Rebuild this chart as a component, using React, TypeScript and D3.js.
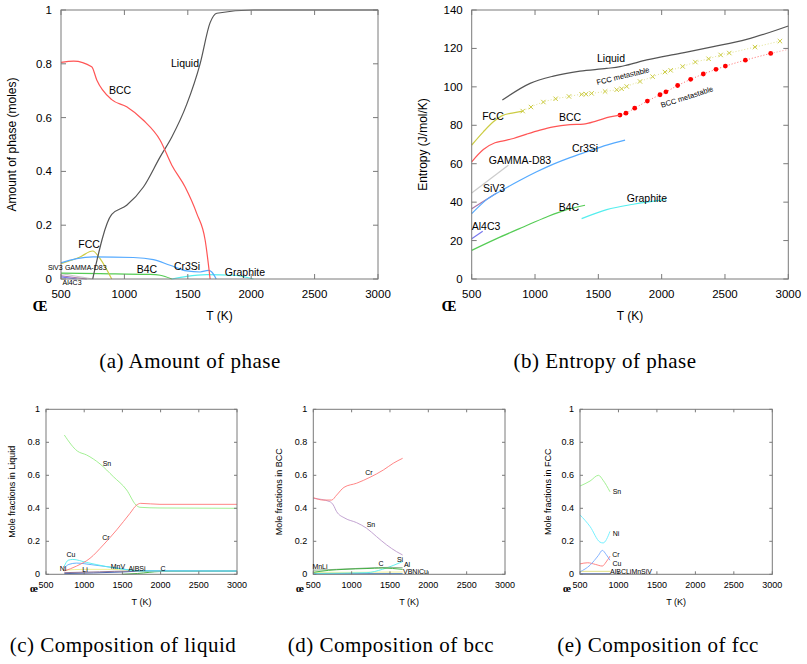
import React from 'react';
import * as d3 from 'd3';

type P = [number, number];

// ---------- Panel (a): amount of phase ----------
const xTicks = [500, 1000, 1500, 2000, 2500, 3000];
const aYTicks = [0, 0.2, 0.4, 0.6, 0.8, 1];
const aBCC: P[] = [[500, 0.805], [600, 0.81], [742, 0.789], [782, 0.74], [900, 0.667], [1018, 0.64], [1150, 0.59], [1282, 0.516], [1374, 0.423], [1479, 0.342], [1571, 0.243], [1637, 0.144], [1676, 0]];
const aLiquid: P[] = [[750, 0], [900, 0.24], [1018, 0.274], [1150, 0.342], [1282, 0.454], [1374, 0.528], [1492, 0.65], [1597, 0.8], [1676, 0.953], [1729, 0.988], [2018, 1.0], [3000, 1.0]];
const aFCC: P[] = [[500, 0.057], [650, 0.082], [750, 0.104], [808, 0.076], [900, 0]];
const aCr3Si: P[] = [[500, 0.06], [624, 0.076], [755, 0.082], [1071, 0.08], [1229, 0.072], [1360, 0.051], [1492, 0.03], [1597, 0.026], [1663, 0.032], [1689, 0.026], [1724, 0]];
const aB4C: P[] = [[500, 0.022], [808, 0.02], [1203, 0.017], [1282, 0.014], [1374, 0]];
const aGraphite: P[] = [[1374, 0], [1492, 0.01], [1650, 0.016], [1860, 0.014], [2018, 0]];
const aSiV3: P[] = [[500, 0.012], [703, 0]];
const aAl4C3: P[] = [[500, 0.008], [624, 0]];
const aGamma: P[] = [[500, 0.02], [600, 0.012], [750, 0]];

// ---------- Panel (b): entropy of phase ----------
const bYTicks = [0, 20, 40, 60, 80, 100, 120, 140];
const bLiquid: P[] = [[742, 93.1], [961, 101.8], [1145, 105.6], [1355, 108.2], [1566, 109.6], [1671, 110.5], [1724, 111.3], [1882, 114], [2145, 117.4], [2408, 120.9], [2671, 124.7], [3000, 131.7]];
const bFCC: P[] = [[500, 69.7], [592, 76.6], [671, 81.8], [737, 84.9], [829, 86.5], [903, 87.4]];
const bFCCmeta: P[] = [[903, 87.4], [968, 89.5], [1066, 92.1], [1163, 93.8], [1268, 95], [1368, 96.1], [1403, 96.2], [1447, 96.6], [1553, 97.6], [1645, 98.5], [1684, 99], [1724, 100.2], [1829, 102.8], [1929, 105.3], [2026, 107.7], [2071, 108.6], [2166, 110.6], [2266, 112.9], [2371, 114.6], [2466, 116.6], [2534, 117.6], [2737, 120.7], [2934, 123.8]];
const bBCC: P[] = [[500, 61], [592, 67.4], [684, 70.9], [750, 71.9], [829, 73.1], [934, 75.4], [1039, 77.5], [1145, 79.2], [1276, 80.3], [1382, 80.6], [1487, 82.3], [1592, 84.4], [1671, 85.3]];
const bBCCmeta: P[] = [[1671, 85.3], [1718, 86.3], [1787, 88.9], [1887, 92.6], [1987, 95.9], [2034, 97.4], [2126, 100.7], [2229, 103.9], [2329, 106.7], [2429, 109.1], [2503, 110.8], [2661, 113.9], [2861, 117.4]];
const bBCCtail: P[] = [[2861, 117.4], [3000, 119.5]];
const bCr3Si: P[] = [[500, 34], [618, 41.3], [750, 46.6], [882, 51.4], [1013, 55.8], [1145, 59.8], [1276, 63.2], [1408, 66.2], [1566, 69.7], [1711, 72.3]];
const bSiV3: P[] = [[500, 36.6], [697, 44.8]];
const bGamma: P[] = [[500, 44.8], [789, 59.2]];
const bAl4C3: P[] = [[500, 21], [587, 24.8]];
const bB4C: P[] = [[500, 14.9], [697, 21], [908, 27.1], [1092, 32.3], [1250, 36.1], [1395, 38.4]];
const bGraphite: P[] = [[1368, 31.4], [1566, 36.1], [1776, 38.9], [2034, 41.3]];

// ---------- Panel (c): composition of liquid ----------
const fracTicks = [0, 0.2, 0.4, 0.6, 0.8, 1];
const cSn: P[] = [[740, 0.844], [910, 0.747], [1032, 0.723], [1207, 0.669], [1381, 0.592], [1556, 0.511], [1678, 0.42], [1730, 0.406], [1992, 0.402], [3000, 0.4]];
const cCr: P[] = [[740, 0.02], [901, 0.05], [1076, 0.097], [1250, 0.178], [1425, 0.269], [1600, 0.37], [1687, 0.42], [1739, 0.43], [1992, 0.424], [3000, 0.424]];
const cCu: P[] = [[740, 0.05], [790, 0.085], [850, 0.09], [1030, 0.072], [1300, 0.046], [1560, 0.028], [1730, 0.02], [3000, 0.02]];
const cNi: P[] = [[740, 0.04], [800, 0.06], [900, 0.068], [1100, 0.058], [1400, 0.04], [1700, 0.022], [3000, 0.02]];
const cLi: P[] = [[740, 0.025], [1000, 0.03], [1300, 0.03], [1600, 0.025], [1750, 0.02], [3000, 0.02]];
const cMn: P[] = [[740, 0.01], [1200, 0.015], [1600, 0.02], [3000, 0.02]];
const cV: P[] = [[740, 0.004], [1500, 0.014], [1750, 0.019], [3000, 0.019]];
const cC: P[] = [[1500, 0.0], [1700, 0.005], [2000, 0.017], [3000, 0.019]];

// ---------- Panel (d): composition of bcc ----------
const dCr: P[] = [[500, 0.465], [630, 0.45], [739, 0.45], [804, 0.48], [900, 0.527], [1065, 0.552], [1239, 0.588], [1413, 0.632], [1543, 0.673], [1665, 0.703]];
const dSn: P[] = [[500, 0.46], [717, 0.44], [761, 0.42], [804, 0.38], [913, 0.34], [1065, 0.313], [1196, 0.279], [1326, 0.228], [1457, 0.178], [1587, 0.137], [1665, 0.117]];
const dC: P[] = [[500, 0.012], [700, 0.024], [900, 0.03], [1200, 0.035], [1400, 0.038], [1665, 0.03]];
const dMn: P[] = [[500, 0.025], [800, 0.03], [1200, 0.038], [1500, 0.042], [1665, 0.04]];
const dSi: P[] = [[500, 0.005], [1200, 0.01], [1400, 0.03], [1550, 0.055], [1665, 0.077]];
const dLi: P[] = [[500, 0.012], [1000, 0.012], [1665, 0.014]];
const dNi: P[] = [[500, 0.003], [1665, 0.004]];

// ---------- Panel (e): composition of fcc ----------
const eSn: P[] = [[500, 0.535], [630, 0.565], [740, 0.6], [800, 0.57], [890, 0.5]];
const eNi: P[] = [[500, 0.36], [630, 0.29], [760, 0.195], [800, 0.19], [890, 0.26]];
const eCu: P[] = [[500, 0.015], [630, 0.055], [740, 0.115], [790, 0.145], [840, 0.12], [890, 0.085]];
const eCr: P[] = [[500, 0.063], [600, 0.07], [700, 0.06], [790, 0.05], [840, 0.075], [890, 0.11]];
const eRest: P[] = [[500, 0.018], [890, 0.018]];
const eV: P[] = [[500, 0.003], [890, 0.003]];

type Series = { data: P[]; color: string; width?: number; dash?: string; marker?: 'x' | 'dot' };
type Label = { text: string; T: number; v: number; size: number; anchor?: string; rotate?: number };

type PanelProps = {
  x0: number; x1: number; yb: number; yt: number;
  yMax: number; yTicks: number[]; yFmt: (v: number) => string;
  tickFont: number; tickLen: number;
  series: Series[]; labels: Label[];
  yTitle: string; yTitleX: number; titleFont: number;
  xTitleY: number; oX: number; oY: number; oFont: number; oText: string;
  xTickY: number; yTickGap: number;
};

const SANS = 'Liberation Sans, Arial, sans-serif';

function Panel(p: PanelProps) {
  const x = d3.scaleLinear().domain([500, 3000]).range([p.x0, p.x1]);
  const y = d3.scaleLinear().domain([0, p.yMax]).range([p.yb, p.yt]);
  const line = d3.line<P>().x(d => x(d[0])).y(d => y(d[1])).curve(d3.curveMonotoneX);
  const frame = '#7a7a7a';
  return (
    <g>
      {p.series.map((s, i) => (
        <g key={i}>
          <path d={line(s.data) || ''} fill="none" stroke={s.color} strokeWidth={s.width ?? 1.2} strokeDasharray={s.dash} />
          {s.marker === 'x' && s.data.map((d, j) => (
            <path key={j} d={`M${x(d[0]) - 2.2},${y(d[1]) - 2.2}L${x(d[0]) + 2.2},${y(d[1]) + 2.2}M${x(d[0]) - 2.2},${y(d[1]) + 2.2}L${x(d[0]) + 2.2},${y(d[1]) - 2.2}`} stroke={s.color} strokeWidth={1} />
          ))}
          {s.marker === 'dot' && s.data.map((d, j) => (
            <circle key={j} cx={x(d[0])} cy={y(d[1])} r={2.4} fill={s.color} />
          ))}
        </g>
      ))}
      <rect x={p.x0} y={p.yt} width={p.x1 - p.x0} height={p.yb - p.yt} fill="none" stroke={frame} strokeWidth={1} />
      {xTicks.map(t => (
        <g key={t}>
          <line x1={x(t)} x2={x(t)} y1={p.yb} y2={p.yb - p.tickLen} stroke={frame} />
          <line x1={x(t)} x2={x(t)} y1={p.yt} y2={p.yt + p.tickLen} stroke={frame} />
          <text x={x(t)} y={p.xTickY} fontSize={p.tickFont} fontFamily={SANS} textAnchor="middle" dominantBaseline="central">{t}</text>
        </g>
      ))}
      {p.yTicks.map(t => (
        <g key={t}>
          <line x1={p.x0} x2={p.x0 + p.tickLen} y1={y(t)} y2={y(t)} stroke={frame} />
          <line x1={p.x1} x2={p.x1 - p.tickLen} y1={y(t)} y2={y(t)} stroke={frame} />
          <text x={p.x0 - p.yTickGap} y={y(t)} fontSize={p.tickFont} fontFamily={SANS} textAnchor="end" dominantBaseline="central">{p.yFmt(t)}</text>
        </g>
      ))}
      {p.labels.map((l, i) => (
        <text key={i} x={x(l.T)} y={y(l.v)} fontSize={l.size} fontFamily={SANS} textAnchor={l.anchor ?? 'middle'} dominantBaseline="central"
          transform={l.rotate ? `rotate(${l.rotate},${x(l.T)},${y(l.v)})` : undefined}>{l.text}</text>
      ))}
      <text transform={`translate(${p.yTitleX},${(p.yb + p.yt) / 2}) rotate(-90)`} fontSize={p.titleFont} fontFamily={SANS} textAnchor="middle" dominantBaseline="central">{p.yTitle}</text>
      <text x={(p.x0 + p.x1) / 2} y={p.xTitleY} fontSize={p.titleFont} fontFamily={SANS} textAnchor="middle" dominantBaseline="central">T (K)</text>
      <text x={p.oX} y={p.oY} fontSize={p.oFont} fontFamily="Liberation Serif, serif" fontWeight="bold" textAnchor="middle" dominantBaseline="central">{p.oText}</text>
    </g>
  );
}

const fmt1 = (v: number) => (v === 0 ? '0' : v === 1 ? '1' : String(v));
const fmtInt = (v: number) => String(v);

const RED = '#ff5555';
const DARK = '#555555';
const YEL = '#cccc44';
const BLUE = '#55aaff';
const GREEN = '#55cc55';
const CYAN = '#55eeee';
const PURP = '#aa77aa';
const GREY = '#cccccc';
const VIOL = '#7777ee';

export default function App() {
  const topCommon = { yb: 279, yt: 10, tickFont: 11.5, tickLen: 5, titleFont: 12, xTitleY: 316, oY: 306, oFont: 15, oText: 'Œ', xTickY: 294, yTickGap: 9 };
  const botCommon = { yb: 574.3, yt: 409.3, yMax: 1, yTicks: fracTicks, yFmt: fmt1, tickFont: 9, tickLen: 3, titleFont: 9, xTitleY: 602, oY: 588, oFont: 11, oText: 'œ', xTickY: 585, yTickGap: 6 };
  const sw = 0.9;
  return (
    <svg width={807} height={664} style={{ position: 'absolute', left: 0, top: 0, background: '#fff' }}>
      <rect width={807} height={664} fill="#fff" />
      <Panel {...topCommon} x0={61} x1={378} yMax={1} yTicks={aYTicks} yFmt={fmt1}
        yTitle="Amount of phase (moles)" yTitleX={12} oX={40}
        series={[
          { data: aGamma, color: GREY },
          { data: aSiV3, color: PURP },
          { data: aAl4C3, color: VIOL },
          { data: aB4C, color: GREEN },
          { data: aGraphite, color: CYAN },
          { data: aFCC, color: YEL },
          { data: aCr3Si, color: BLUE },
          { data: aLiquid, color: DARK },
          { data: aBCC, color: RED },
        ]}
        labels={[
          { text: 'Liquid', T: 1478, v: 0.803, size: 10.5 },
          { text: 'BCC', T: 965, v: 0.703, size: 10.5 },
          { text: 'FCC', T: 721, v: 0.13, size: 10.5 },
          { text: 'Cr3Si', T: 1494, v: 0.048, size: 10.5 },
          { text: 'B4C', T: 1178, v: 0.037, size: 10.5 },
          { text: 'Graphite', T: 1951, v: 0.026, size: 10.5 },
          { text: 'SiV3', T: 455, v: 0.041, size: 7 },
          { text: 'GAMMA-D83', T: 695, v: 0.043, size: 7 },
          { text: 'Al4C3', T: 587, v: -0.013, size: 7 },
        ]} />
      <Panel {...topCommon} x0={471.7} x1={788.3} yMax={140} yTicks={bYTicks} yFmt={fmtInt}
        yTitle="Entropy (J/mol/K)" yTitleX={423} oX={449}
        series={[
          { data: bLiquid, color: DARK },
          { data: bFCCmeta, color: YEL, width: 0.6, dash: '1,2', marker: 'x' },
          { data: bBCCmeta, color: '#ff0000', width: 0.6, dash: '1,2', marker: 'dot' },
          { data: bBCCtail, color: RED, width: 0.6, dash: '1,2' },
          { data: bFCC, color: YEL },
          { data: bBCC, color: RED },
          { data: bGamma, color: GREY },
          { data: bSiV3, color: PURP },
          { data: bCr3Si, color: BLUE },
          { data: bAl4C3, color: VIOL },
          { data: bB4C, color: GREEN },
          { data: bGraphite, color: CYAN },
        ]}
        labels={[
          { text: 'Liquid', T: 1600, v: 115, size: 10.5 },
          { text: 'FCC metastable', T: 1695, v: 105.6, size: 7.5, rotate: -14 },
          { text: 'BCC metastable', T: 2200, v: 94.7, size: 7.5, rotate: -18 },
          { text: 'FCC', T: 668, v: 84.8, size: 10.5 },
          { text: 'BCC', T: 1276, v: 84.3, size: 10.5 },
          { text: 'Cr3Si', T: 1395, v: 68.1, size: 10.5 },
          { text: 'GAMMA-D83', T: 881, v: 61.8, size: 10.5 },
          { text: 'SiV3', T: 676, v: 47.2, size: 10.5 },
          { text: 'B4C', T: 1268, v: 37.4, size: 10.5 },
          { text: 'Graphite', T: 1884, v: 42.0, size: 10.5 },
          { text: 'Al4C3', T: 613, v: 27.5, size: 10.5 },
        ]} />
      <Panel {...botCommon} x0={46} x1={237} yTitle="Mole fractions in Liquid" yTitleX={12} oX={34}
        series={[
          { data: cC, color: '#33aa33', width: sw },
          { data: cV, color: '#3355aa', width: sw },
          { data: cMn, color: '#886688', width: sw },
          { data: cLi, color: '#eeee88', width: sw },
          { data: cNi, color: BLUE, width: sw },
          { data: cCu, color: CYAN, width: sw },
          { data: cSn, color: '#99ee88', width: sw },
          { data: cCr, color: '#ff7777', width: sw },
        ]}
        labels={[
          { text: 'Sn', T: 1298, v: 0.669, size: 7 },
          { text: 'Cr', T: 1285, v: 0.226, size: 7 },
          { text: 'Cu', T: 827, v: 0.117, size: 7 },
          { text: 'Ni', T: 722, v: 0.038, size: 7 },
          { text: 'Li', T: 1010, v: 0.032, size: 7 },
          { text: 'MnV', T: 1442, v: 0.05, size: 7 },
          { text: 'AlBSi', T: 1691, v: 0.038, size: 7 },
          { text: 'C', T: 2031, v: 0.038, size: 7 },
        ]} />
      <Panel {...botCommon} x0={313.3} x1={505} yTitle="Mole fractions in BCC" yTitleX={279} oX={300}
        series={[
          { data: dNi, color: '#3377cc', width: sw },
          { data: dLi, color: '#eeee88', width: sw },
          { data: dSi, color: CYAN, width: sw },
          { data: dMn, color: '#88aa88', width: sw },
          { data: dC, color: '#33aa33', width: sw },
          { data: dSn, color: '#bb99cc', width: sw },
          { data: dCr, color: '#ff7777', width: sw },
        ]}
        labels={[
          { text: 'Cr', T: 1226, v: 0.62, size: 7 },
          { text: 'Sn', T: 1252, v: 0.299, size: 7 },
          { text: 'MnLi', T: 587, v: 0.05, size: 7 },
          { text: 'C', T: 1383, v: 0.068, size: 7 },
          { text: 'Si', T: 1631, v: 0.087, size: 7 },
          { text: 'Al', T: 1722, v: 0.062, size: 7 },
          { text: 'VBNiCu', T: 1832, v: 0.02, size: 7 },
        ]} />
      <Panel {...botCommon} x0={580} x1={772.3} yTitle="Mole fractions in FCC" yTitleX={548} oX={567}
        series={[
          { data: eV, color: '#3355aa', width: sw },
          { data: eRest, color: '#dddd77', width: sw },
          { data: eCr, color: '#ff7777', width: sw },
          { data: eCu, color: '#77aaff', width: sw },
          { data: eNi, color: '#66eeff', width: sw },
          { data: eSn, color: '#99ee88', width: sw },
        ]}
        labels={[
          { text: 'Sn', T: 981, v: 0.499, size: 7 },
          { text: 'Ni', T: 968, v: 0.25, size: 7 },
          { text: 'Cr', T: 968, v: 0.123, size: 7 },
          { text: 'Cu', T: 981, v: 0.068, size: 7 },
          { text: 'AlBCLiMnSiV', T: 1163, v: 0.014, size: 7 },
        ]} />
      <g fontFamily="'Liberation Serif', 'DejaVu Serif', serif" fontSize={21} letterSpacing={0.5} textAnchor="middle">
        <text x={190} y={368}>(a)  Amount of phase</text>
        <text x={605} y={368}>(b)  Entropy of phase</text>
        <text x={123} y={652}>(c)  Composition of liquid</text>
        <text x={391} y={652}>(d)  Composition of bcc</text>
        <text x={658} y={652}>(e)  Composition of fcc</text>
      </g>
    </svg>
  );
}
